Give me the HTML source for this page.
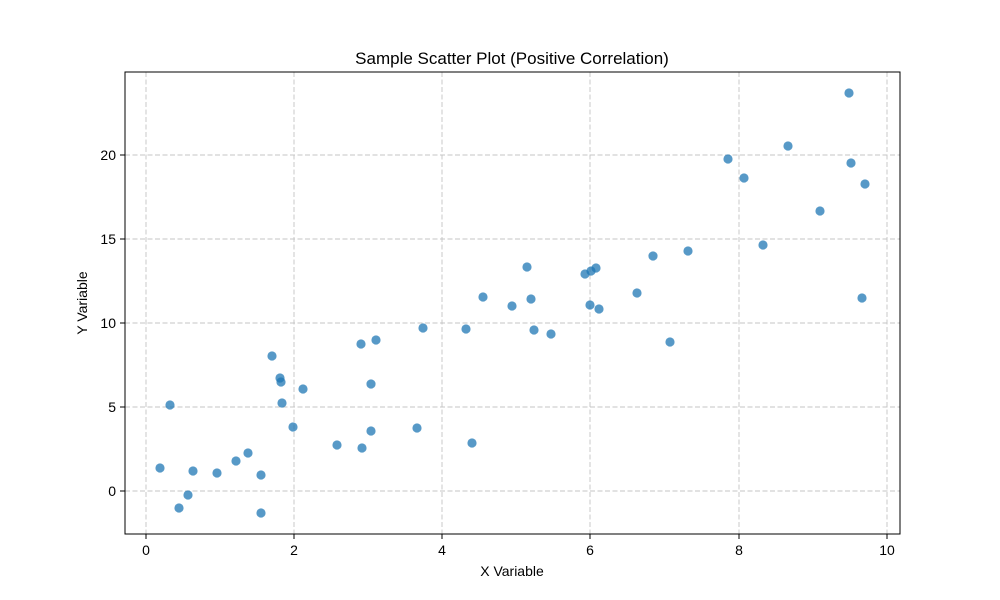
<!DOCTYPE html>
<html><head><meta charset="utf-8"><style>
body{margin:0;background:#fff;}
svg{display:block;font-family:"Liberation Sans",sans-serif;}
</style></head><body>
<svg width="1000" height="600" xmlns="http://www.w3.org/2000/svg">
<rect width="1000" height="600" fill="#fff"/>
<g stroke="#c4c4c4" stroke-width="0.9" stroke-dasharray="5,2.5">
<line x1="146" y1="72" x2="146" y2="534"/><line x1="294" y1="72" x2="294" y2="534"/>
<line x1="442" y1="72" x2="442" y2="534"/><line x1="590" y1="72" x2="590" y2="534"/>
<line x1="739" y1="72" x2="739" y2="534"/><line x1="887" y1="72" x2="887" y2="534"/>
<line x1="125" y1="491" x2="900" y2="491"/><line x1="125" y1="407" x2="900" y2="407"/>
<line x1="125" y1="323" x2="900" y2="323"/><line x1="125" y1="239" x2="900" y2="239"/>
<line x1="125" y1="155" x2="900" y2="155"/>
</g>
<g fill="#1f77b4" fill-opacity="0.75">
<circle cx="170" cy="405" r="4.6"/><circle cx="160" cy="468" r="4.6"/><circle cx="179" cy="508" r="4.6"/><circle cx="188" cy="495" r="4.6"/><circle cx="193" cy="471" r="4.6"/><circle cx="217" cy="473" r="4.6"/><circle cx="236" cy="461" r="4.6"/><circle cx="248" cy="453" r="4.6"/><circle cx="261" cy="475" r="4.6"/><circle cx="261" cy="513" r="4.6"/><circle cx="272" cy="356" r="4.6"/><circle cx="280" cy="378" r="4.6"/><circle cx="281" cy="382" r="4.6"/><circle cx="282" cy="403" r="4.6"/><circle cx="293" cy="427" r="4.6"/><circle cx="303" cy="389" r="4.6"/><circle cx="337" cy="445" r="4.6"/><circle cx="361" cy="344" r="4.6"/><circle cx="362" cy="448" r="4.6"/><circle cx="371" cy="384" r="4.6"/><circle cx="371" cy="431" r="4.6"/><circle cx="376" cy="340" r="4.6"/><circle cx="417" cy="428" r="4.6"/><circle cx="423" cy="328" r="4.6"/><circle cx="466" cy="329" r="4.6"/><circle cx="472" cy="443" r="4.6"/><circle cx="483" cy="297" r="4.6"/><circle cx="512" cy="306" r="4.6"/><circle cx="527" cy="267" r="4.6"/><circle cx="531" cy="299" r="4.6"/><circle cx="534" cy="330" r="4.6"/><circle cx="551" cy="334" r="4.6"/><circle cx="585" cy="274" r="4.6"/><circle cx="590" cy="305" r="4.6"/><circle cx="591" cy="271" r="4.6"/><circle cx="596" cy="268" r="4.6"/><circle cx="599" cy="309" r="4.6"/><circle cx="637" cy="293" r="4.6"/><circle cx="653" cy="256" r="4.6"/><circle cx="670" cy="342" r="4.6"/><circle cx="688" cy="251" r="4.6"/><circle cx="728" cy="159" r="4.6"/><circle cx="744" cy="178" r="4.6"/><circle cx="763" cy="245" r="4.6"/><circle cx="788" cy="146" r="4.6"/><circle cx="820" cy="211" r="4.6"/><circle cx="849" cy="93" r="4.6"/><circle cx="851" cy="163" r="4.6"/><circle cx="862" cy="298" r="4.6"/><circle cx="865" cy="184" r="4.6"/>
</g>
<rect x="125" y="72" width="775" height="462" fill="none" stroke="#000" stroke-width="1"/>
<g stroke="#000" stroke-width="1">
<line x1="146" y1="534" x2="146" y2="539"/><line x1="294" y1="534" x2="294" y2="539"/><line x1="442" y1="534" x2="442" y2="539"/><line x1="590" y1="534" x2="590" y2="539"/><line x1="739" y1="534" x2="739" y2="539"/><line x1="887" y1="534" x2="887" y2="539"/>
<line x1="120" y1="491" x2="125" y2="491"/><line x1="120" y1="407" x2="125" y2="407"/><line x1="120" y1="323" x2="125" y2="323"/><line x1="120" y1="239" x2="125" y2="239"/><line x1="120" y1="155" x2="125" y2="155"/>
</g>
<g font-size="14" fill="#000" text-anchor="middle">
<text x="146" y="555">0</text><text x="294" y="555">2</text><text x="442" y="555">4</text><text x="590" y="555">6</text><text x="739" y="555">8</text><text x="887" y="555">10</text>
</g>
<g font-size="14" fill="#000" text-anchor="end">
<text x="116" y="496">0</text><text x="116" y="412">5</text><text x="116" y="328">10</text><text x="116" y="244">15</text><text x="116" y="160">20</text>
</g>
<text x="512" y="576" font-size="14" text-anchor="middle">X Variable</text>
<text x="87" y="303" font-size="14" text-anchor="middle" transform="rotate(-90 87 303)">Y Variable</text>
<text x="512" y="64" font-size="17" text-anchor="middle">Sample Scatter Plot (Positive Correlation)</text>
</svg>
</body></html>
